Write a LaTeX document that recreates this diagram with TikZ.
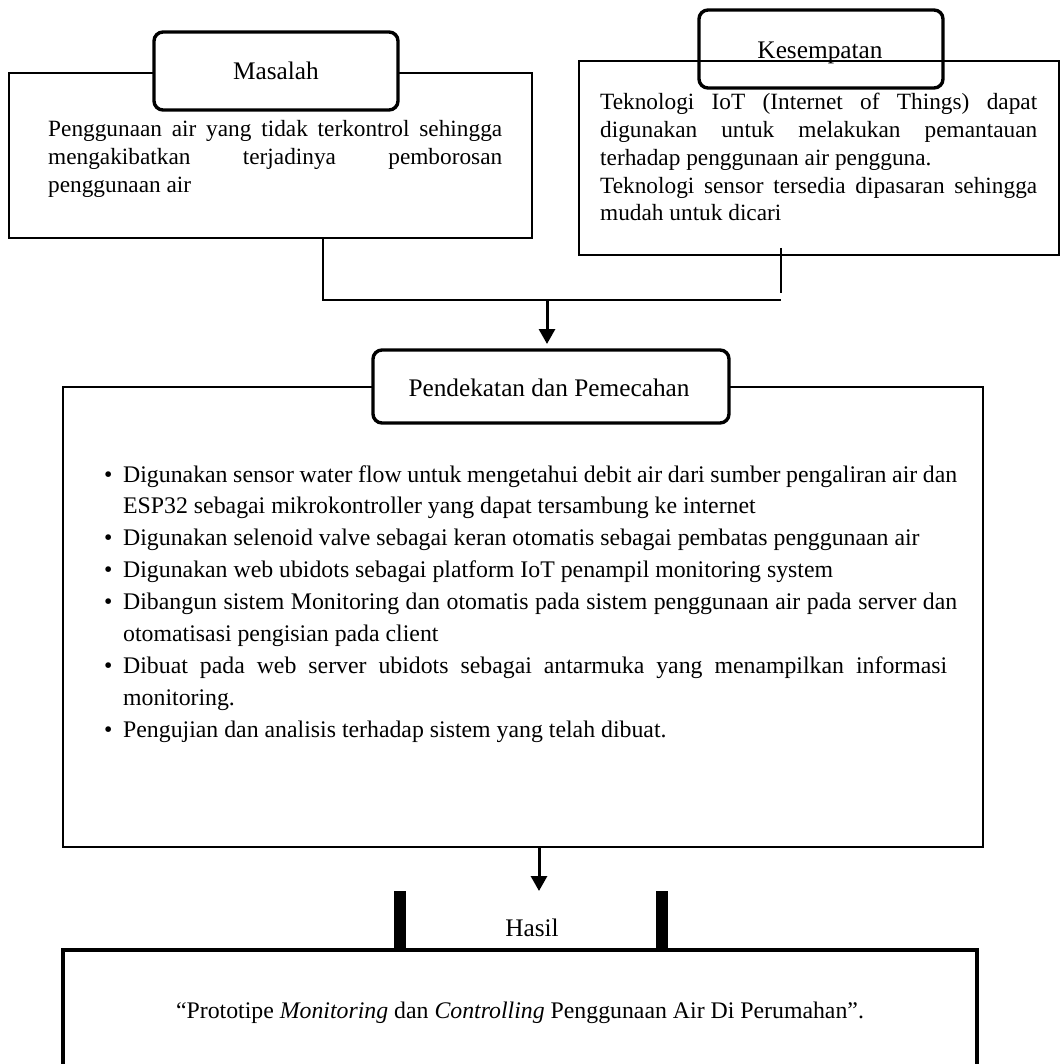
\documentclass[tikz,border=0pt]{standalone}
\usepackage{fontspec}
\setmainfont{Liberation Serif}
\usetikzlibrary{arrows.meta,calc}
\newcommand{\JL}[2]{\hbox{\makebox[#1][s]{#2}}}
\newcommand{\NL}[1]{\hbox{#1}}
\newcommand{\BL}[2]{\hbox{\makebox[19pt][l]{\textbullet}\makebox[#1][s]{#2}}}
\newcommand{\BNL}[1]{\hbox{\makebox[19pt][l]{\textbullet}#1}}
\newcommand{\CL}[1]{\hbox{\hspace*{19pt}#1}}
\begin{document}
\begin{tikzpicture}[x=1pt,y=-1pt,
  frame/.style={draw,line width=2.2pt,inner sep=0pt,fill=none},
  lab/.style={draw,line width=3.4pt,rounded corners=9pt,inner sep=0pt},
  ttl/.style={inner sep=0pt,anchor=base,font=\fontsize{25.3}{30}\selectfont},
  smalltxt/.style={inner sep=0pt,anchor=base west,font=\fontsize{23.3}{27.75}\selectfont},
  bigtxt/.style={inner sep=0pt,anchor=base west,font=\fontsize{23.8}{31.9}\selectfont},
  conn/.style={line width=2pt},
  arr/.style={line width=3pt,-{Triangle[length=15pt,width=16pt]}}]
\useasboundingbox[fill=white] (0,0) rectangle (1061,1064);

% boxes
\node[frame,minimum width=523pt,minimum height=165pt] (mas) at (270.5,155.5) {};
\node[frame,minimum width=480pt,minimum height=194pt] (kes) at (819,158) {};
\node[frame,minimum width=920pt,minimum height=460pt] (pen) at (523,617) {};
\node[frame,line width=3.3pt,minimum width=914pt,minimum height=140pt] (res) at (520,1020) {};

% labels
\node[lab,fill=white,minimum width=244pt,minimum height=78pt] (maslab) at (276,71) {};
\node[lab,minimum width=244pt,minimum height=78pt] (keslab) at (821,49) {};
\node[lab,fill=white,minimum width=356pt,minimum height=73pt] (penlab) at (551,386.5) {};

\node[ttl] (mastitle) at (276,80) {Masalah};
\node[ttl] (kestitle) at (820,59) {Kesempatan};
\node[ttl] (pentitle) at (549,396) {Pendekatan dan Pemecahan};
\node[ttl] (hastitle) at (532,936) {Hasil};

% Hasil bars
\fill (394,891) rectangle (406,950);
\fill (656,891) rectangle (668,950);

% texts
\node[smalltxt] (mastext) at (48,137) {\vtop{%
  \JL{454pt}{Penggunaan air yang tidak terkontrol sehingga}
  \JL{454pt}{mengakibatkan terjadinya pemborosan}
  \NL{penggunaan air}}};

\node[smalltxt] (kestext) at (600,110) {\vtop{%
  \JL{437pt}{Teknologi IoT (Internet of Things) dapat}
  \JL{437pt}{digunakan untuk melakukan pemantauan}
  \NL{terhadap penggunaan air pengguna.}
  \JL{437pt}{Teknologi sensor tersedia dipasaran sehingga}
  \NL{mudah untuk dicari}}};

\node[bigtxt] (pentext) at (104,482) {\vtop{%
  \BL{834pt}{Digunakan sensor water flow untuk mengetahui debit air dari sumber pengaliran air dan}
  \CL{ESP32 sebagai mikrokontroller yang dapat tersambung ke internet}
  \BNL{Digunakan selenoid valve sebagai keran otomatis sebagai pembatas penggunaan air}
  \BNL{Digunakan web ubidots sebagai platform IoT penampil monitoring system}
  \BL{834pt}{Dibangun sistem Monitoring dan otomatis pada sistem penggunaan air pada server dan}
  \CL{otomatisasi pengisian pada client}
  \BL{824pt}{Dibuat pada web server ubidots sebagai antarmuka yang menampilkan informasi}
  \CL{monitoring.}
  \BNL{Pengujian dan analisis terhadap sistem yang telah dibuat.}}};

\node[inner sep=0pt,anchor=base,font=\fontsize{23.8}{28}\selectfont] (restext) at (520,1018)
  {``Prototipe \textit{Monitoring} dan \textit{Controlling} Penggunaan Air Di Perumahan''.};

% connectors
\coordinate (j1) at (323,300);
\coordinate (j2) at (781,300);
\coordinate (k1) at (781,248);
\coordinate (k2) at (781,293);
\coordinate (j0) at (547,300);
\coordinate (a1) at (547,344);
\coordinate (p0) at (539,847);
\coordinate (h0) at (539,891);
\draw[conn] (mas.south -| j1) -- (j1) -- (j2);
\draw[conn] (k1) -- (k2);
\draw[arr] (j0) -- (a1);
\draw[arr] (pen.south -| p0) -- (h0);
\end{tikzpicture}
\end{document}
